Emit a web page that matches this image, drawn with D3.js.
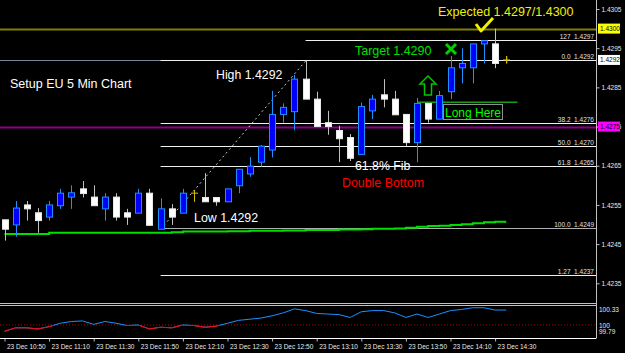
<!DOCTYPE html>
<html><head><meta charset="utf-8">
<script src="https://cdn.jsdelivr.net/npm/d3@7"></script>
<style>html,body{margin:0;padding:0;background:#000;}svg{display:block;}</style>
</head><body>
<svg id="c" width="625" height="353"></svg>
<script>
const times = ["10:50","10:55","11:00","11:05","11:10","11:15","11:20","11:25","11:30","11:35","11:40","11:45","11:50","11:55","12:00","12:05","12:10","12:15","12:20","12:25","12:30","12:35","12:40","12:45","12:50","12:55","13:00","13:05","13:10","13:15","13:20","13:25","13:30","13:35","13:40","13:45","13:50","13:55","14:00","14:05","14:10","14:15","14:20","14:25","14:30","14:35"];
const openP  = [1.42512,1.42499,1.42550,1.42530,1.42519,1.42548,1.42570,1.42591,1.42570,1.42540,1.42570,1.42530,1.42529,1.42580,1.42488,1.42540,1.42529,1.42580,1.42569,1.42569,1.42558,1.42599,1.42629,1.42659,1.42690,1.42781,1.42788,1.42871,1.42820,1.42760,1.42740,1.42722,1.42679,1.42790,1.42831,1.42820,1.42781,1.42709,1.42809,1.42769,1.42839,1.42900,1.42900,1.42961,1.42961,1.42920];
const highP  = [1.42512,1.42560,1.42560,1.42542,1.42560,1.42591,1.42600,1.42611,1.42600,1.42580,1.42580,1.42540,1.42591,1.42591,1.42567,1.42552,1.42591,1.42588,1.42631,1.42569,1.42591,1.42641,1.42672,1.42703,1.42841,1.42809,1.42882,1.42917,1.42839,1.42790,1.42752,1.42731,1.42811,1.42831,1.42871,1.42841,1.42781,1.42823,1.42809,1.42841,1.42930,1.42950,1.42961,1.42969,1.43000,1.42930];
const lowP   = [1.42459,1.42469,1.42510,1.42479,1.42510,1.42540,1.42540,1.42569,1.42548,1.42510,1.42510,1.42499,1.42529,1.42498,1.42488,1.42499,1.42529,1.42558,1.42558,1.42548,1.42558,1.42580,1.42622,1.42648,1.42671,1.42760,1.42740,1.42820,1.42750,1.42729,1.42659,1.42662,1.42679,1.42769,1.42799,1.42780,1.42700,1.42659,1.42760,1.42769,1.42820,1.42860,1.42860,1.42911,1.42899,1.42911];
const closeP = [1.42488,1.42542,1.42540,1.42510,1.42550,1.42580,1.42581,1.42579,1.42548,1.42570,1.42519,1.42519,1.42580,1.42498,1.42540,1.42519,1.42580,1.42580,1.42558,1.42558,1.42591,1.42641,1.42649,1.42700,1.42781,1.42799,1.42871,1.42820,1.42750,1.42750,1.42719,1.42669,1.42801,1.42820,1.42820,1.42780,1.42709,1.42809,1.42769,1.42829,1.42900,1.42911,1.42961,1.42969,1.42911,1.42920];
const maP    = [1.42476,1.42476,1.42476,1.42476,1.42479,1.42479,1.42479,1.42479,1.42479,1.42479,1.42479,1.42479,1.42479,1.42479,1.42479,1.42480,1.42482,1.42482,1.42482,1.42482,1.42483,1.42483,1.42484,1.42484,1.42484,1.42485,1.42485,1.42486,1.42486,1.42486,1.42487,1.42487,1.42488,1.42489,1.42489,1.42490,1.42492,1.42494,1.42496,1.42497,1.42499,1.42501,1.42503,1.42506,1.42507,1.42507];
const momentum = [99.89,99.95,99.95,99.93,99.97,100.03,100.06,100.07,100.01,100.06,100.03,99.99,100.00,99.93,99.96,99.95,100.00,99.99,99.96,99.98,100.03,100.08,100.10,100.12,100.16,100.21,100.28,100.25,100.20,100.19,100.18,100.13,100.23,100.25,100.25,100.21,100.13,100.19,100.13,100.19,100.25,100.27,100.30,100.30,100.26,100.26];
const xTickLabels = ["23 Dec 10:50","23 Dec 11:10","23 Dec 11:30","23 Dec 11:50","23 Dec 12:10","23 Dec 12:30","23 Dec 12:50","23 Dec 13:10","23 Dec 13:30","23 Dec 13:50","23 Dec 14:10","23 Dec 14:30"];
const yTicks = [1.4305,1.4295,1.4285,1.4275,1.4265,1.4255,1.4245,1.4235];
const fibLevels = [
  {lbl:"127", p:1.4297, from:27},
  {lbl:"0.0", p:1.4292, from:14},
  {lbl:"38.2", p:1.4276, from:14},
  {lbl:"50.0", p:1.4270, from:14},
  {lbl:"61.8", p:1.4265, from:14},
  {lbl:"100.0", p:1.4249, from:14},
  {lbl:"1.27", p:1.4237, from:14}
];
const momTicks = [100.33, 100, 99.79];

const svg = d3.select("#c");
const W = 625, H = 353, axisX = 596;
svg.append("rect").attr("width",W).attr("height",H).attr("fill","#000");

const x = d3.scaleLinear().domain([0, times.length-1]).range([4.5, 506.25]);
const y = d3.scaleLinear().domain([1.4305, 1.4235]).range([9, 283.3]);
const ym = d3.scaleLinear().domain([99.79, 100.33]).range([337, 306]);
const font = "Liberation Sans, Arial, sans-serif";

// horizontal full-width lines
svg.append("line").attr("x1",0).attr("x2",axisX).attr("y1",Math.round(y(1.4292))+0.5).attr("y2",Math.round(y(1.4292))+0.5).attr("stroke","#778899");
svg.append("line").attr("x1",0).attr("x2",axisX).attr("y1",Math.round(y(1.4300))+0.5).attr("y2",Math.round(y(1.4300))+0.5).attr("stroke","#808000").attr("stroke-width",2);
svg.append("line").attr("x1",0).attr("x2",axisX).attr("y1",Math.round(y(1.4275))+0.5).attr("y2",Math.round(y(1.4275))+0.5).attr("stroke","#8b008b").attr("stroke-width",2);

// fib lines
fibLevels.forEach(f=>{
  const yy = Math.round(y(f.p))+0.5;
  svg.append("line").attr("x1",x(f.from)).attr("x2",axisX).attr("y1",yy).attr("y2",yy)
    .attr("stroke", f.lbl==="100.0" ? "#b0b0b0" : "#f0f0f0");
  svg.append("text").attr("x",594).attr("y",yy-2).attr("text-anchor","end")
    .attr("font-family",font).attr("font-size",6.5).attr("fill","#e0e0e0")
    .attr("xml:space","preserve").text(f.lbl+"  "+f.p.toFixed(4));
});
// fib diagonal
svg.append("line").attr("x1",x(14)).attr("y1",y(lowP[14])).attr("x2",x(27)).attr("y2",y(highP[27]))
  .attr("stroke","#c8c8c8").attr("stroke-dasharray","2,3");

// moving average
svg.append("path").datum(maP).attr("fill","none").attr("stroke","#00e000").attr("stroke-width",2)
  .attr("d", d3.line().x((d,i)=>x(i)).y(d=>y(d)).curve(d3.curveStepAfter));
// long line
svg.append("line").attr("x1",x(37)).attr("x2",x(46)).attr("y1",y(1.42812)).attr("y2",y(1.42812)).attr("stroke","#1e9a1e").attr("stroke-width",1.5);

// candles
const bars = svg.append("g");
times.forEach((t,i)=>{
  const cx = Math.round(x(i))+0.5;
  const o=openP[i], c=closeP[i];
  const bull = c>o, doji = c===o;
  const wickCol = doji ? "#d4c000" : (bull ? "#1e90ff" : "#c0c0c0");
  bars.append("line").attr("x1",cx).attr("x2",cx).attr("y1",y(highP[i])).attr("y2",y(lowP[i])).attr("stroke",wickCol);
  if (doji) {
    bars.append("line").attr("x1",cx-3.5).attr("x2",cx+3.5).attr("y1",y(o)).attr("y2",y(o)).attr("stroke",wickCol);
  } else {
    const top = y(Math.max(o,c)), bot = y(Math.min(o,c));
    bars.append("rect").attr("x",cx-3).attr("width",6).attr("y",top).attr("height",Math.max(1,bot-top))
      .attr("fill", bull ? "#0000ff" : "#ffffff").attr("stroke", bull ? "#1e90ff" : "#e8e8e8");
  }
});

// texts
function txt(s,xx,yy,col,size,anchor){
  return svg.append("text").attr("x",xx).attr("y",yy).attr("fill",col).attr("font-family",font)
    .attr("font-size",size).attr("text-anchor",anchor||"start").text(s);
}
txt("Expected 1.4297/1.4300",438,16,"#f0f000",12.5);
txt("Target 1.4290",355,55,"#00e000",12.5);
txt("Setup EU 5 Min Chart",10,88,"#ffffff",12.5);
txt("High 1.4292",216,79,"#ffffff",12.3);
txt("Low 1.4292",194,222,"#ffffff",12.4);
txt("61.8% Fib",355,170,"#ffffff",12.3);
txt("Double Bottom",342,187,"#ff0000",12.4);
svg.append("rect").attr("x",443.5).attr("y",104.5).attr("width",59).attr("height",15).attr("fill","none").attr("stroke","#909090");
txt("Long Here",445,117,"#00ff00",12);
// checkmark
svg.append("path").attr("d","M476,24 L481,31 L493,18").attr("fill","none").attr("stroke","#f0f000").attr("stroke-width",3).attr("stroke-linejoin","round");
// green x
svg.append("path").attr("d","M446,44 L456,54 M456,44 L446,54").attr("fill","none").attr("stroke","#00d000").attr("stroke-width",3);
// up arrow
svg.append("path").attr("d","M428,76 L436,84 L431.5,84 L431.5,95 L424.5,95 L424.5,84 L420,84 Z").attr("fill","none").attr("stroke","#00c800").attr("stroke-width",1.5);
// current price tick
svg.append("line").attr("x1",x(45)+0.5).attr("x2",x(45)+0.5).attr("y1",y(highP[45])).attr("y2",y(lowP[45])).attr("stroke","#d4c000");

// indicator
const mline = d3.line().x((d,i)=>x(i)).y(d=>ym(d));
svg.append("clipPath").attr("id","below").append("rect").attr("x",0).attr("y",ym(100)).attr("width",axisX).attr("height",40);
svg.append("line").attr("x1",0).attr("x2",axisX).attr("y1",ym(100)).attr("y2",ym(100)).attr("stroke","#b00000").attr("stroke-dasharray","1,2");
svg.append("path").datum(momentum).attr("fill","none").attr("stroke","#1e90ff").attr("d",mline);
svg.append("path").datum(momentum).attr("fill","none").attr("stroke","#ff0000").attr("clip-path","url(#below)").attr("d",mline);

// frames
svg.append("line").attr("x1",0).attr("x2",axisX).attr("y1",303.5).attr("y2",303.5).attr("stroke","#c0c0c0");
svg.append("line").attr("x1",0).attr("x2",axisX).attr("y1",305.5).attr("y2",305.5).attr("stroke","#c0c0c0");
svg.append("line").attr("x1",0).attr("x2",axisX).attr("y1",338.5).attr("y2",338.5).attr("stroke","#ffffff");
svg.append("line").attr("x1",axisX+0.5).attr("x2",axisX+0.5).attr("y1",0).attr("y2",338.5).attr("stroke","#c0c0c0");

// y axis
const yAxis = d3.axisRight(y).tickValues(yTicks).tickFormat(d3.format(".4f")).tickSize(3).tickPadding(2);
const ga = svg.append("g").attr("transform",`translate(${axisX+0.5},0)`).call(yAxis);
ga.select(".domain").remove();
ga.selectAll("line").attr("stroke","#c0c0c0");
ga.selectAll("text").attr("fill","#e8e8e8").attr("font-family",font).attr("font-size",6.5);

// highlighted price labels
[{p:1.4300,bg:"#ffff00"},{p:1.4292,bg:"#ffffff"},{p:1.4275,bg:"#ff00ff"}].forEach(l=>{
  const yy = y(l.p);
  svg.append("rect").attr("x",598).attr("y",yy-5).attr("width",22).attr("height",10).attr("fill",l.bg);
  svg.append("text").attr("x",600).attr("y",yy+2.5).attr("fill","#000").attr("font-family",font).attr("font-size",6.5).text(l.p.toFixed(4));
});

// momentum labels
momTicks.forEach((v,i)=>{
  svg.append("text").attr("x",599).attr("y",[312,328,334][i]).attr("fill","#e8e8e8").attr("font-family",font).attr("font-size",6.5).text(String(v));
});

// x axis
const xs = d3.scalePoint().domain(times).range([x(0), x(times.length-1)]);
const tickTimes = xTickLabels.map(s=>s.slice(7));
const xAxis = d3.axisBottom(xs).tickValues(tickTimes).tickFormat(d=>"23 Dec "+d).tickSize(3).tickPadding(3);
const gx = svg.append("g").attr("transform","translate(0,338.5)").call(xAxis);
gx.select(".domain").remove();
gx.selectAll("line").attr("stroke","#c0c0c0");
gx.selectAll("text").attr("fill","#e8e8e8").attr("font-family",font).attr("font-size",6.5).attr("text-anchor","start").attr("dx",2);
</script>
</body></html>
